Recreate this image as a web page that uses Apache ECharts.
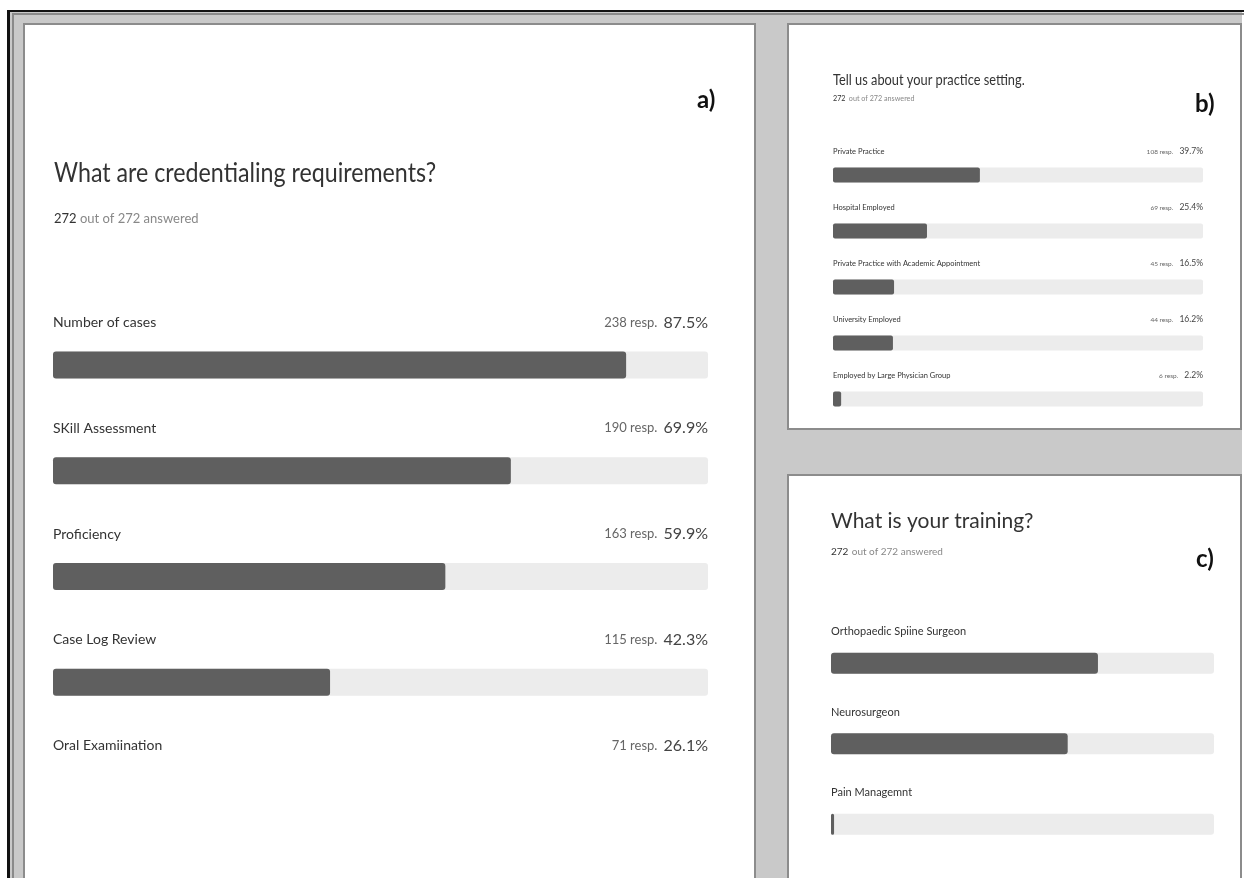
<!DOCTYPE html>
<html>
<head>
<meta charset="utf-8">
<script src="https://cdn.jsdelivr.net/npm/echarts@6/dist/echarts.min.js"></script>
<style>
  html, body { margin: 0; padding: 0; background: #ffffff; }
  #chart { width: 1244px; height: 878px; }
</style>
</head>
<body>
<div id="chart"></div>
<script>
// Survey results: three questions, shares of respondents per answer
const answeredA = 272, totalA = 272;
const catsA = ['Number of cases', 'SKill Assessment', 'Proficiency', 'Case Log Review', 'Oral Examiination'];
const respA = [238, 190, 163, 115, 71];
const pctA = [87.5, 69.9, 59.9, 42.3, 26.1];

const catsB = ['Private Practice', 'Hospital Employed', 'Private Practice with Academic Appointment', 'University Employed', 'Employed by Large Physician Group'];
const respB = [108, 69, 45, 44, 6];
const pctB = [39.7, 25.4, 16.5, 16.2, 2.2];

const catsC = ['Orthopaedic Spiine Surgeon', 'Neurosurgeon', 'Pain Managemnt'];
const pctC = [69.7, 61.8, 0.8];

const FONT = '"Lato", "Noto Sans", sans-serif';
const BAR = '#5f5f5f';
const TRACK = '#ececec';

const chart = echarts.init(document.getElementById('chart'), null, { renderer: 'canvas' });

function panelAxes(gridIndex, cats) {
  return {
    x: { type: 'value', gridIndex, min: 0, max: 100, show: false },
    y: { type: 'category', gridIndex, data: cats, inverse: true, show: false }
  };
}

// one track series (full width, carries the right-hand count label) and one value series (carries the name);
// the last row of the first panel runs past the card edge, so only its text line shows
function panelSeries(idx, cats, pct, resp, opt) {
  const cut = i => opt.hideLast && i === cats.length - 1;
  const track = {
    type: 'bar', xAxisIndex: idx, yAxisIndex: idx, barWidth: opt.barH, barGap: '-100%',
    silent: true, z: 1,
    itemStyle: { color: TRACK, borderRadius: opt.radius },
    data: cats.map((c, i) => ({
      value: 100,
      itemStyle: cut(i) ? { color: 'rgba(0,0,0,0)' } : undefined
    })),
    label: {
      show: !!resp,
      position: ['100%', opt.labelDy], align: 'right', verticalAlign: 'middle',
      fontFamily: FONT,
      formatter: p => resp ? '{r|' + resp[p.dataIndex] + ' resp.}  {p|' + pct[p.dataIndex].toFixed(1) + '%}' : '',
      rich: {
        r: { fontFamily: FONT, fontSize: opt.smallSize, color: '#666' },
        p: { fontFamily: FONT, fontSize: opt.pctSize, color: '#444' }
      }
    }
  };
  const bars = {
    type: 'bar', xAxisIndex: idx, yAxisIndex: idx, barWidth: opt.barH, barGap: '-100%',
    z: 2,
    itemStyle: { color: BAR, borderRadius: opt.radius },
    data: pct.map((v, i) => ({
      value: v,
      itemStyle: cut(i) ? { color: 'rgba(0,0,0,0)' } : undefined
    })),
    label: {
      show: true,
      position: [0, opt.labelDy], align: 'left', verticalAlign: 'middle',
      fontFamily: FONT, fontSize: opt.nameSize, color: '#333',
      formatter: p => cats[p.dataIndex]
    }
  };
  return [track, bars];
}

const aAx = panelAxes(0, catsA), bAx = panelAxes(1, catsB), cAx = panelAxes(2, catsC);

function frameGraphics() {
  const g = [];
  g.push({ type: 'rect', shape: { x: 7, y: 10, width: 1235, height: 878 }, style: { fill: '#c9c9c9' }, silent: true, z: -10 });
  g.push({ type: 'rect', shape: { x: 7, y: 10, width: 1244, height: 2 }, style: { fill: '#111' }, silent: true, z: -9 });
  g.push({ type: 'rect', shape: { x: 7, y: 10, width: 3, height: 878 }, style: { fill: '#111' }, silent: true, z: -9 });
  g.push({ type: 'rect', shape: { x: 12, y: 13, width: 1244, height: 2 }, style: { fill: '#8a8a8a' }, silent: true, z: -9 });
  g.push({ type: 'rect', shape: { x: 12, y: 13, width: 2, height: 878 }, style: { fill: '#8a8a8a' }, silent: true, z: -9 });
  const boxes = [
    [24, 24, 731, 860],
    [788, 24, 453, 405],
    [788, 475, 453, 410]
  ];
  boxes.forEach(b => g.push({
    type: 'rect', shape: { x: b[0], y: b[1], width: b[2], height: b[3] },
    style: { fill: '#ffffff', stroke: '#8c8c8c', lineWidth: 2 }, silent: true, z: -8
  }));
  return g;
}

function text(x, y, str, size, color, extra, sx) {
  return {
    type: 'text', x, y, scaleX: sx || 1, silent: true, z: 5,
    style: Object.assign({ text: str, fontFamily: FONT, fontSize: size, fill: color, verticalAlign: 'middle', align: 'left' }, extra || {})
  };
}

function answered(x, y, size) {
  return {
    type: 'text', x, y, silent: true, z: 5,
    style: {
      text: '{b|' + answeredA + '} {g|out of ' + totalA + ' answered}',
      verticalAlign: 'middle',
      rich: {
        b: { fontFamily: FONT, fontSize: size, fill: '#333', color: '#333' },
        g: { fontFamily: FONT, fontSize: size, fill: '#888', color: '#888' }
      }
    }
  };
}

const graphics = frameGraphics().concat([
  text(54, 173, 'What are credentialing requirements?', 27, '#333', null, 0.86),
  answered(54, 219, 13),
  text(697, 100, 'a)', 24, '#111', { fontWeight: 'bold' }),

  text(833, 80, 'Tell us about your practice setting.', 16, '#333', null, 0.8),
  answered(833, 99, 7.2),
  text(1195, 104, 'b)', 24, '#111', { fontWeight: 'bold' }),

  text(831, 521, 'What is your training?', 21, '#333'),
  answered(831, 552, 10),
  text(1196, 559, 'c)', 24, '#111', { fontWeight: 'bold' })
]);

const option = {
  animation: false,
  backgroundColor: '#ffffff',
  graphic: graphics,
  grid: [
    { left: 53, top: 312, width: 655, height: 529 },
    { left: 833, top: 147, width: 370, height: 280 },
    { left: 831, top: 623, width: 383, height: 241.5 }
  ],
  xAxis: [aAx.x, bAx.x, cAx.x],
  yAxis: [aAx.y, bAx.y, cAx.y],
  series: [].concat(
    panelSeries(0, catsA, pctA, respA, { barH: 27, radius: 3, labelDy: -29, nameSize: 14, smallSize: 13, pctSize: 16, hideLast: true }),
    panelSeries(1, catsB, pctB, respB, { barH: 15, radius: 2, labelDy: -16, nameSize: 7.5, smallSize: 6.5, pctSize: 8.5 }),
    panelSeries(2, catsC, pctC, null, { barH: 21, radius: 3, labelDy: -21, nameSize: 11 })
  )
};

chart.setOption(option);
</script>
</body>
</html>
